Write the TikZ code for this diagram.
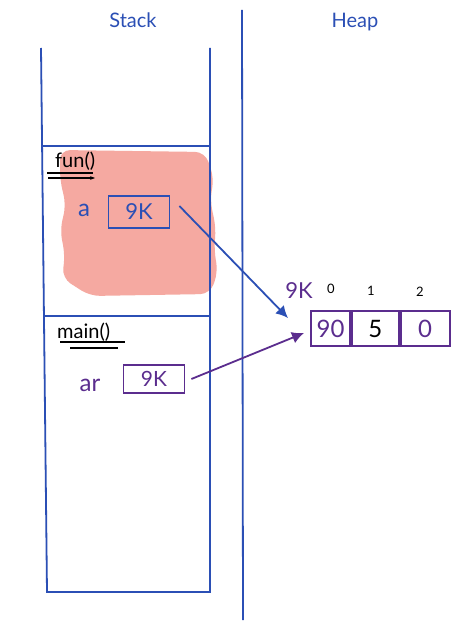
\documentclass[tikz,border=0pt]{standalone}
\usepackage{fontspec}
\setmainfont{Lato}
\usetikzlibrary{arrows.meta}
\definecolor{inkblue}{HTML}{2B4FB5}
\definecolor{inkpurple}{HTML}{5B2D8E}
\definecolor{salmon}{HTML}{F5A9A1}
\tikzset{
  frame/.style={draw=inkblue, line width=1.8pt},
  bluebox/.style={draw=inkblue, line width=1.8pt, minimum width=61pt, minimum height=32pt, text=inkblue, font=\fontsize{22}{24}\selectfont, inner sep=0pt},
  purplebox/.style={draw=inkpurple, line width=1.8pt, minimum width=61pt, minimum height=28pt, text=inkpurple, font=\fontsize{21}{24}\selectfont, inner sep=0pt},
  cell/.style={draw=inkpurple, line width=1.8pt, minimum height=35pt, inner sep=0pt, font=\fontsize{24}{26}\selectfont},
  lbl/.style={font=\fontsize{20}{22}\selectfont, inner sep=1pt},
  idx/.style={font=\fontsize{13}{15}\selectfont, inner sep=1pt},
  ptr/.style={line width=1.8pt, -{Latex[length=12pt,width=12pt]}}
}
\begin{document}
\begin{tikzpicture}[x=1pt,y=-1pt]
\useasboundingbox (0,0) rectangle (463,623);
\fill[white] (0,0) rectangle (463,623);
% salmon blob
\fill[salmon, rounded corners=10pt] (60,150) -- (205,152) -- (214,178) -- (210,200) -- (216,228) -- (214,250) -- (218,272) -- (210,294) -- (90,296) -- (62,278) -- (65,255) -- (60,230) -- (66,205) -- (60,180) -- cycle;
% stack frame
\draw[frame] (41,48) -- (47,592) -- (210,592) -- (210,48);
\draw[frame] (42,146) -- (210,146);
\draw[frame] (45,316) -- (210,316);
% divider
\draw[frame] (242,10) -- (243,620);
% titles
\node[lbl, text=inkblue] (stk) at (133,20) {Stack};
\node[lbl, text=inkblue] (hp) at (355,22) {Heap};
% fun frame
\node[lbl, anchor=west] (fun) at (54,161) {fun()};
\draw[line width=1.2pt] (47,173) -- (93,173);
\draw[line width=1.2pt, -{Stealth[length=5pt]}] (48,178) -- (95,178);
\node[lbl, text=inkblue, font=\fontsize{24}{26}\selectfont] (a) at (84,210) {a};
\node[bluebox] (abox) at (139,212) {9K};
% main frame
\node[lbl, anchor=west] (main) at (56,332) {main()};
\draw[line width=1.2pt] (60,342) -- (125,342);
\draw[line width=1.2pt] (70,348) -- (118,348);
\node[lbl, text=inkpurple, font=\fontsize{24}{26}\selectfont] (ar) at (90,385) {ar};
\node[purplebox] (arbox) at (154,379) {9K};
% heap array
\node[cell, minimum width=39pt, text=inkpurple] (c0) at (330.5,328.5) {90};
\node[cell, minimum width=47pt, text=black, anchor=west] (c1) at (c0.east) {5};
\node[cell, minimum width=49pt, text=inkpurple, anchor=west] (c2) at (c1.east) {0};
\node[lbl, text=inkpurple, font=\fontsize{22}{24}\selectfont] (addr) at (299,291) {9K};
\node[idx] (i0) at (331,289) {0};
\node[idx] (i1) at (371,291) {1};
\node[idx] (i2) at (420,292) {2};
% pointers
\coordinate (ahead) at (288,318);
\coordinate (arhead) at (304,333);
\draw[ptr, draw=inkblue, fill=inkblue] (abox.east) ++(9,-6) -- (ahead);
\draw[ptr, draw=inkpurple, fill=inkpurple] (arbox.east) ++(6,0) -- (arhead);
\end{tikzpicture}
\end{document}
